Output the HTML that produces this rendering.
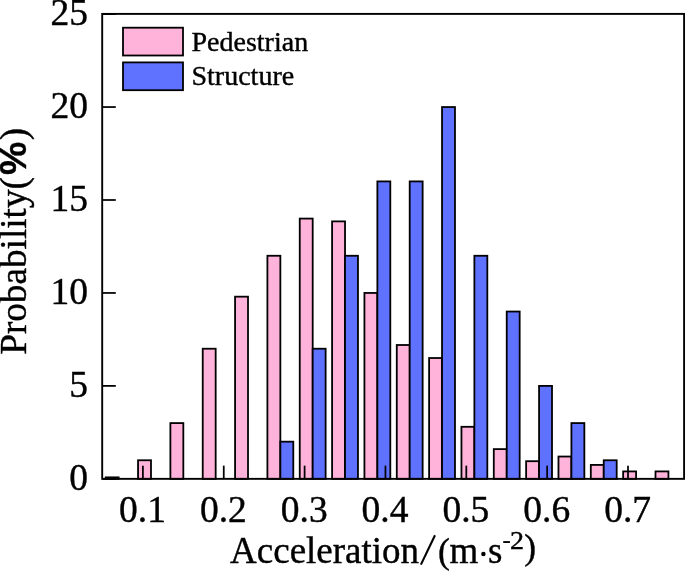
<!DOCTYPE html>
<html><head><meta charset="utf-8"><style>
html,body{margin:0;padding:0;background:#fff;}
body{width:685px;height:571px;overflow:hidden;}
svg{display:block;will-change:transform;}
text{font-family:"Liberation Serif",serif;fill:#000;stroke:#000;stroke-width:0.4px;}
</style></head><body>
<svg width="685" height="571" viewBox="0 0 685 571">
<rect width="685" height="571" fill="#fff"/>
<g>
<rect x="105.71" y="477.36" width="12.94" height="1.49" fill="#FFB2DA" stroke="#000" stroke-width="1.8"/>
<rect x="138.05" y="460.26" width="12.94" height="18.59" fill="#FFB2DA" stroke="#000" stroke-width="1.8"/>
<rect x="170.39" y="423.08" width="12.94" height="55.77" fill="#FFB2DA" stroke="#000" stroke-width="1.8"/>
<rect x="202.73" y="348.72" width="12.94" height="130.13" fill="#FFB2DA" stroke="#000" stroke-width="1.8"/>
<rect x="235.07" y="296.67" width="12.94" height="182.18" fill="#FFB2DA" stroke="#000" stroke-width="1.8"/>
<rect x="267.41" y="255.77" width="12.94" height="223.08" fill="#FFB2DA" stroke="#000" stroke-width="1.8"/>
<rect x="280.35" y="441.67" width="12.94" height="37.18" fill="#5F71FF" stroke="#000" stroke-width="1.8"/>
<rect x="299.75" y="218.59" width="12.94" height="260.26" fill="#FFB2DA" stroke="#000" stroke-width="1.8"/>
<rect x="312.69" y="348.72" width="12.94" height="130.13" fill="#5F71FF" stroke="#000" stroke-width="1.8"/>
<rect x="332.09" y="221.38" width="12.94" height="257.47" fill="#FFB2DA" stroke="#000" stroke-width="1.8"/>
<rect x="345.02" y="255.77" width="12.94" height="223.08" fill="#5F71FF" stroke="#000" stroke-width="1.8"/>
<rect x="364.43" y="292.95" width="12.94" height="185.90" fill="#FFB2DA" stroke="#000" stroke-width="1.8"/>
<rect x="377.37" y="181.41" width="12.94" height="297.44" fill="#5F71FF" stroke="#000" stroke-width="1.8"/>
<rect x="396.77" y="345.00" width="12.94" height="133.85" fill="#FFB2DA" stroke="#000" stroke-width="1.8"/>
<rect x="409.70" y="181.41" width="12.94" height="297.44" fill="#5F71FF" stroke="#000" stroke-width="1.8"/>
<rect x="429.11" y="358.02" width="12.94" height="120.83" fill="#FFB2DA" stroke="#000" stroke-width="1.8"/>
<rect x="442.04" y="107.05" width="12.94" height="371.80" fill="#5F71FF" stroke="#000" stroke-width="1.8"/>
<rect x="461.45" y="426.80" width="12.94" height="52.05" fill="#FFB2DA" stroke="#000" stroke-width="1.8"/>
<rect x="474.38" y="255.77" width="12.94" height="223.08" fill="#5F71FF" stroke="#000" stroke-width="1.8"/>
<rect x="493.79" y="449.11" width="12.94" height="29.74" fill="#FFB2DA" stroke="#000" stroke-width="1.8"/>
<rect x="506.73" y="311.54" width="12.94" height="167.31" fill="#5F71FF" stroke="#000" stroke-width="1.8"/>
<rect x="526.13" y="461.19" width="12.94" height="17.66" fill="#FFB2DA" stroke="#000" stroke-width="1.8"/>
<rect x="539.07" y="385.90" width="12.94" height="92.95" fill="#5F71FF" stroke="#000" stroke-width="1.8"/>
<rect x="558.47" y="456.54" width="12.94" height="22.31" fill="#FFB2DA" stroke="#000" stroke-width="1.8"/>
<rect x="571.41" y="423.08" width="12.94" height="55.77" fill="#5F71FF" stroke="#000" stroke-width="1.8"/>
<rect x="590.81" y="464.91" width="12.94" height="13.94" fill="#FFB2DA" stroke="#000" stroke-width="1.8"/>
<rect x="603.75" y="460.26" width="12.94" height="18.59" fill="#5F71FF" stroke="#000" stroke-width="1.8"/>
<rect x="623.15" y="471.41" width="12.94" height="7.44" fill="#FFB2DA" stroke="#000" stroke-width="1.8"/>
<rect x="655.49" y="471.41" width="12.94" height="7.44" fill="#FFB2DA" stroke="#000" stroke-width="1.8"/>
</g>
<g stroke="#000" stroke-width="1.75">
<line x1="102.20" y1="478.85" x2="115.80" y2="478.85"/>
<line x1="102.20" y1="385.90" x2="115.80" y2="385.90"/>
<line x1="102.20" y1="292.95" x2="115.80" y2="292.95"/>
<line x1="102.20" y1="200.00" x2="115.80" y2="200.00"/>
<line x1="102.20" y1="107.05" x2="115.80" y2="107.05"/>
<line x1="102.20" y1="14.10" x2="115.80" y2="14.10"/>
<line x1="142.90" y1="478.85" x2="142.90" y2="465.65"/>
<line x1="223.75" y1="478.85" x2="223.75" y2="465.65"/>
<line x1="304.60" y1="478.85" x2="304.60" y2="465.65"/>
<line x1="385.45" y1="478.85" x2="385.45" y2="465.65"/>
<line x1="466.30" y1="478.85" x2="466.30" y2="465.65"/>
<line x1="547.15" y1="478.85" x2="547.15" y2="465.65"/>
<line x1="628.00" y1="478.85" x2="628.00" y2="465.65"/>
</g>
<rect x="102.20" y="13.90" width="581.90" height="464.95" fill="none" stroke="#000" stroke-width="1.9"/>
<g font-size="37.5">
<text x="88" y="490.15" text-anchor="end">0</text>
<text x="88" y="397.20" text-anchor="end">5</text>
<text x="88" y="304.25" text-anchor="end">10</text>
<text x="88" y="211.30" text-anchor="end">15</text>
<text x="88" y="118.35" text-anchor="end">20</text>
<text x="88" y="25.40" text-anchor="end">25</text>
<text x="142.50" y="522.3" text-anchor="middle">0.1</text>
<text x="223.35" y="522.3" text-anchor="middle">0.2</text>
<text x="304.20" y="522.3" text-anchor="middle">0.3</text>
<text x="385.05" y="522.3" text-anchor="middle">0.4</text>
<text x="465.90" y="522.3" text-anchor="middle">0.5</text>
<text x="546.75" y="522.3" text-anchor="middle">0.6</text>
<text x="627.60" y="522.3" text-anchor="middle">0.7</text>
</g>
<g font-size="37">
<text x="230.1" y="562.7">Acceleration</text>
<line x1="420.9" y1="564.6" x2="435.0" y2="535.3" stroke="#000" stroke-width="2.1"/>
<text x="438.1" y="562.7" font-size="35.5">(</text>
<text x="449.4" y="562.7">m</text>
<text x="487.9" y="562.7">s</text>
<text x="524.2" y="558.8" font-size="35.5">)</text>
</g>
<circle cx="483.4" cy="553.9" r="2.25" fill="#000"/>
<text x="502.2" y="548.3" font-size="26" style="stroke-width:0">-</text>
<text transform="translate(510,548.6) scale(1.08,1)" font-size="26">2</text>
<text transform="translate(25.9,354.8) rotate(-90)" font-size="37.2">Probability(</text>
<text transform="translate(25.9,175) rotate(-90)" font-size="37.5" font-family="Liberation Sans" font-weight="bold" style="font-family:'Liberation Sans',sans-serif">%</text>
<text transform="translate(25.9,140.3) rotate(-90)" font-size="37">)</text>
<rect x="123" y="27.7" width="60" height="27.8" fill="#FFB2DA" stroke="#000" stroke-width="1.8"/>
<rect x="123" y="62.4" width="60" height="27.8" fill="#5F71FF" stroke="#000" stroke-width="1.8"/>
<text x="191.5" y="51.2" font-size="28">Pedestrian</text>
<text x="191.5" y="85.4" font-size="28">Structure</text>
</svg>
</body></html>
